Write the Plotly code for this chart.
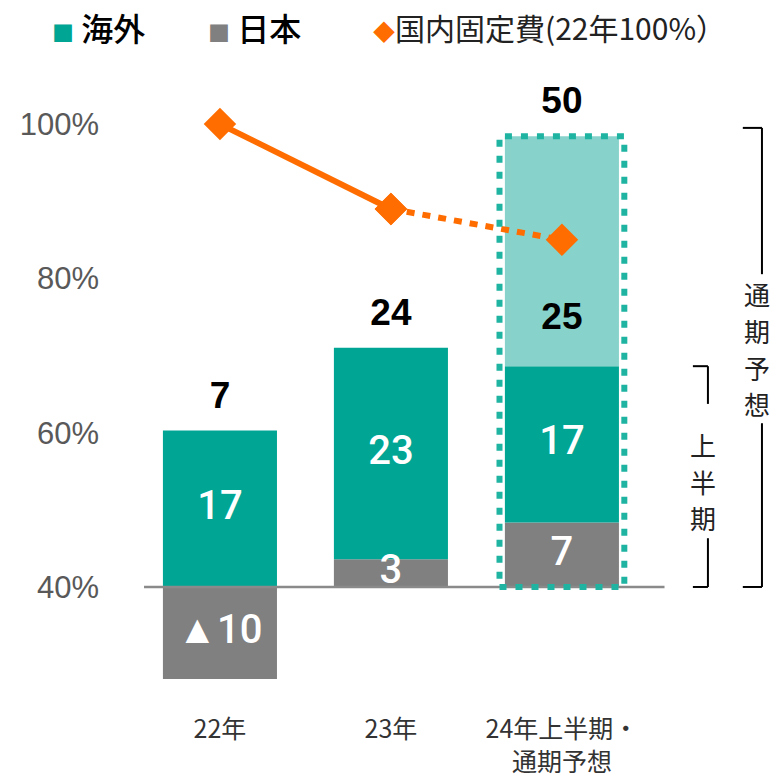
import plotly.graph_objects as go

# ---------------- data ----------------
categories = ["22年", "23年", "24年上半期・<br>通期予想"]
overseas = [17, 23, 17]          # 海外
japan = [-10, 3, 7]              # 日本
fy_extra = [None, None, 25]      # 通期予想 (追加分)
totals = [7, 24, 50]             # 合計ラベル
fixed_cost = [100, 89, 85]       # 国内固定費 (22年=100%)
pct_ticks = [40, 60, 80, 100]

# ---------------- style ----------------
C_OVER = "#00A693"
C_JP = "#808080"
C_FY = "#87D3CB"
C_FY_EDGE = "#1FB3A2"
C_LINE = "#FF6D00"
W, H = 774, 776
L, R, T, B = 110, 4, 90, 64
X_RANGE = [-0.643, 3.217]
BAR_RANGE = [-13.59, 54.02]
PCT_RANGE = [23.80, 104.42]
BAR_W = 0.667

x = list(range(len(categories)))


def fmt(v):
    return ("▲" + str(abs(v))) if v < 0 else str(v)


fig = go.Figure()

# stacked bars (primary axis, hidden)
fig.add_bar(x=x, y=japan, marker_color=C_JP, width=BAR_W, name="日本",
            marker_line_width=0, showlegend=False)
fig.add_bar(x=x, y=overseas, marker_color=C_OVER, width=BAR_W, name="海外",
            marker_line_width=0, showlegend=False)
fig.add_bar(x=x, y=fy_extra, marker_color=C_FY, width=BAR_W, name="通期予想",
            marker_line_width=0, showlegend=False)

# in-bar labels
seg_font = dict(family="Liberation Sans Narrow, Roboto", size=40, color="white", weight=500)
fig.add_scatter(x=x, y=[v / 2 for v in japan], mode="text",
                text=[fmt(v) for v in japan], textfont=seg_font, cliponaxis=False,
                showlegend=False, hoverinfo="skip")
fig.add_scatter(x=x, y=[max(j, 0) + o / 2 for j, o in zip(japan, overseas)],
                mode="text", text=[fmt(v) for v in overseas], textfont=seg_font,
                cliponaxis=False, showlegend=False, hoverinfo="skip")

# total labels
tops = []
for j, o, f in zip(japan, overseas, fy_extra):
    tops.append(max(j, 0) + o + (f or 0))
tot_font = dict(family="Liberation Sans", size=37, color="black", weight=700)
fig.add_scatter(x=x, y=[t + 3.5 for t in tops], mode="text",
                text=[str(t) for t in totals], textfont=tot_font, cliponaxis=False,
                showlegend=False, hoverinfo="skip")
# full-year extra label
h1_top = [max(j, 0) + o for j, o in zip(japan, overseas)]
fy_x = [i for i, f in enumerate(fy_extra) if f is not None]
fig.add_scatter(x=fy_x, y=[h1_top[i] + 5 for i in fy_x], mode="text",
                text=[str(fy_extra[i]) for i in fy_x], textfont=tot_font,
                cliponaxis=False, showlegend=False, hoverinfo="skip")

# fixed-cost line (secondary axis, drawn on top)
fig.add_scatter(x=x[:2], y=fixed_cost[:2], yaxis="y2", mode="lines+markers",
                line=dict(color=C_LINE, width=6), cliponaxis=False,
                marker=dict(symbol="diamond", size=25, color=C_LINE),
                showlegend=False, hoverinfo="skip")
fig.add_scatter(x=x[1:], y=fixed_cost[1:], yaxis="y2", mode="lines+markers",
                line=dict(color=C_LINE, width=6, dash="8px,8px"), cliponaxis=False,
                marker=dict(symbol="diamond", size=25, color=C_LINE),
                showlegend=False, hoverinfo="skip")

shapes = []
# baseline
shapes.append(dict(type="line", xref="x", yref="y", x0=-0.444, x1=2.60, y0=0, y1=0,
                   line=dict(color="#8A8A8A", width=2.5), layer="above"))
# dotted outline around full-year bar
i2 = fy_x[0]
shapes.append(dict(type="rect", xref="x", yref="y", x0=i2 - 0.365, x1=i2 + 0.365,
                   y0=0, y1=tops[i2], line=dict(color=C_FY_EDGE, width=6, dash="7px,9px"),
                   layer="above"))


def bracket(x_in, x_out, top, gap_lo, gap_hi):
    br = dict(color="black", width=2)
    return [
        dict(type="line", xref="x", yref="y", x0=x_in, x1=x_out, y0=top, y1=top, line=br),
        dict(type="line", xref="x", yref="y", x0=x_out, x1=x_out, y0=top, y1=gap_hi, line=br),
        dict(type="line", xref="x", yref="y", x0=x_out, x1=x_out, y0=gap_lo, y1=0, line=br),
        dict(type="line", xref="x", yref="y", x0=x_in, x1=x_out, y0=0, y1=0, line=br),
    ]


shapes += bracket(2.766, 2.854, h1_top[i2], 5.3, 19.9)
shapes += bracket(3.058, 3.170, 49.9, 17.8, 34.0)

annotations = []
vfont = dict(family="Noto Sans CJK JP", size=26, color="#222222")


def vertical_text(text, xc, yc, step):
    n = len(text)
    for k, ch in enumerate(text):
        yk = yc + (n - 1) / 2 * step - k * step
        annotations.append(dict(x=xc, y=yk, xref="x", yref="y", text=ch,
                                showarrow=False, font=vfont))


vertical_text("上半期", 2.825, 11.5, 4.0)
vertical_text("通期予想", 3.14, 25.9, 4.0)


def px_x(px):
    return (px - L) / (W - L - R)


def px_y(py):
    return (H - B - py) / (H - T - B)


lg_y = px_y(27)
lg_font_b = dict(family="Noto Sans CJK JP", size=32, color="black", weight=500)
annotations.append(dict(x=px_x(50), y=lg_y, xref="paper", yref="paper",
                        xanchor="left", yanchor="middle",
                        text=f"<span style='color:{C_OVER};font-size:22px'>■</span> 海外",
                        showarrow=False, font=lg_font_b))
annotations.append(dict(x=px_x(206), y=lg_y, xref="paper", yref="paper",
                        xanchor="left", yanchor="middle",
                        text=f"<span style='color:{C_JP};font-size:22px'>■</span> 日本",
                        showarrow=False, font=lg_font_b))
annotations.append(dict(x=px_x(371), y=lg_y, xref="paper", yref="paper",
                        xanchor="left", yanchor="middle",
                        text=f"<span style='color:{C_LINE};font-size:22px'>◆</span>国内固定費(22年100%）",
                        showarrow=False,
                        font=dict(family="Noto Sans CJK JP", size=30, color="#222222")))

fig.update_layout(
    width=W, height=H,
    margin=dict(l=L, r=R, t=T, b=B),
    barmode="relative",
    plot_bgcolor="white", paper_bgcolor="white",
    showlegend=False,
    xaxis=dict(range=X_RANGE, tickvals=x, ticktext=categories, showgrid=False,
               zeroline=False, showline=False, ticks="", automargin=False,
               tickfont=dict(family="Noto Sans CJK JP", size=25, color="#333333")),
    yaxis=dict(range=BAR_RANGE, visible=False, showgrid=False, zeroline=False,
               automargin=False),
    yaxis2=dict(range=PCT_RANGE, overlaying="y", side="left", anchor="x",
                tickvals=pct_ticks, ticktext=[f"{v}%" for v in pct_ticks],
                showgrid=False, zeroline=False, showline=False, ticks="",
                ticklabelstandoff=10, automargin=False,
                tickfont=dict(family="Liberation Sans", size=31, color="#595959")),
    shapes=shapes,
    annotations=annotations,
)

fig.write_html("out.html")
